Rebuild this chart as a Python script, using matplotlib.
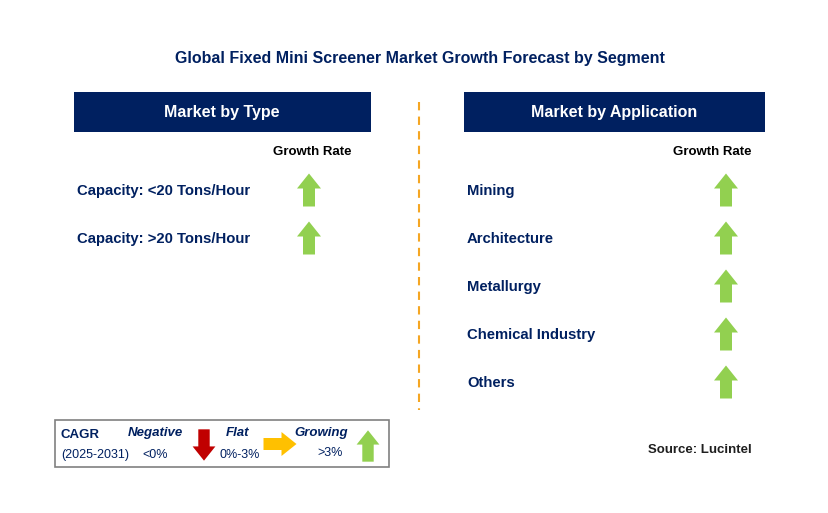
import matplotlib.pyplot as plt
from matplotlib.patches import Polygon, Rectangle

plt.rcParams["font.family"] = "Liberation Sans"

title = "Global Fixed Mini Screener Market Growth Forecast by Segment"
type_segments = ["Capacity: <20 Tons/Hour", "Capacity: >20 Tons/Hour"]
type_growth = ["up", "up"]
app_segments = ["Mining", "Architecture", "Metallurgy", "Chemical Industry", "Others"]
app_growth = ["up", "up", "up", "up", "up"]

NAVY = "#002060"
GREEN = "#92D050"
RED = "#C00000"
YELLOW = "#FFC000"

fig = plt.figure(figsize=(8.29, 5.13), dpi=100)
ax = fig.add_axes([0, 0, 1, 1])
ax.set_xlim(0, 829)
ax.set_ylim(513, 0)
ax.axis("off")


def arrow(cx, cy, kind, size=1.0):
    # arrow centred at (cx, cy), pixel coords
    L, hw, sw, hl = 33 * size, 12 * size, 6 * size, 15 * size
    if kind == "up":
        t, b = cy - L / 2, cy + L / 2
        pts = [(cx, t), (cx + hw, t + hl), (cx + sw, t + hl), (cx + sw, b),
               (cx - sw, b), (cx - sw, t + hl), (cx - hw, t + hl)]
        col = GREEN
    elif kind == "down":
        t, b = cy - L / 2, cy + L / 2
        pts = [(cx, b), (cx + hw, b - hl), (cx + sw, b - hl), (cx + sw, t),
               (cx - sw, t), (cx - sw, b - hl), (cx - hw, b - hl)]
        col = RED
    else:
        l, r = cx - L / 2, cx + L / 2
        pts = [(r, cy), (r - hl, cy - hw), (r - hl, cy - sw), (l, cy - sw),
               (l, cy + sw), (r - hl, cy + sw), (r - hl, cy + hw)]
        col = YELLOW
    ax.add_patch(Polygon(pts, closed=True, color=col, lw=0))


ax.text(420, 58, title, ha="center", va="center", fontsize=11.5, fontweight="bold", color=NAVY)

# panel headers
ax.add_patch(Rectangle((74, 92), 297, 40, color=NAVY, lw=0))
ax.text(222, 113, "Market by Type", ha="center", va="center", fontsize=11.5, fontweight="bold", color="white")
ax.add_patch(Rectangle((464, 92), 301, 40, color=NAVY, lw=0))
ax.text(614, 113, "Market by Application", ha="center", va="center", fontsize=11.5, fontweight="bold", color="white")

ax.plot([419, 419], [102, 410], color="#F5A623", lw=1.5, ls=(0, (4, 3)))

ax.text(312, 152, "Growth Rate", ha="center", va="center", fontsize=9.5, fontweight="bold", color="black")
ax.text(712, 152, "Growth Rate", ha="center", va="center", fontsize=9.5, fontweight="bold", color="black")

for i, (seg, g) in enumerate(zip(type_segments, type_growth)):
    y = 191 + i * 48
    ax.text(77, y, seg, ha="left", va="center", fontsize=10.7, fontweight="bold", color=NAVY)
    arrow(309, y - 1, g)

for i, (seg, g) in enumerate(zip(app_segments, app_growth)):
    y = 191 + i * 48
    ax.text(467, y, seg, ha="left", va="center", fontsize=10.7, fontweight="bold", color=NAVY)
    arrow(726, y - 1, g)

# legend box
ax.add_patch(Rectangle((55, 420), 334, 47, fill=False, ec="#808080", lw=1.2))
ax.text(61, 435, "CAGR", ha="left", va="center", fontsize=9.5, fontweight="bold", color=NAVY)
ax.text(61, 455, "(2025-2031)", ha="left", va="center", fontsize=9, color=NAVY)
ax.text(155, 433, "Negative", ha="center", va="center", fontsize=9.5, fontweight="bold", style="italic", color=NAVY)
ax.text(155, 455, "<0%", ha="center", va="center", fontsize=9, color=NAVY)
arrow(204, 445, "down", 0.95)
ax.text(238, 433, "Flat", ha="center", va="center", fontsize=9.5, fontweight="bold", style="italic", color=NAVY)
ax.text(240, 455, "0%-3%", ha="center", va="center", fontsize=9, color=NAVY)
arrow(280, 444, "right", 1.0)
ax.text(321, 433, "Growing", ha="center", va="center", fontsize=9.5, fontweight="bold", style="italic", color=NAVY)
ax.text(330, 453, ">3%", ha="center", va="center", fontsize=9, color=NAVY)
arrow(368, 446, "up", 0.95)

ax.text(700, 450, "Source: Lucintel", ha="center", va="center", fontsize=9.5, fontweight="bold", color="#1F1F1F")

fig.savefig("out.png", dpi=100)
